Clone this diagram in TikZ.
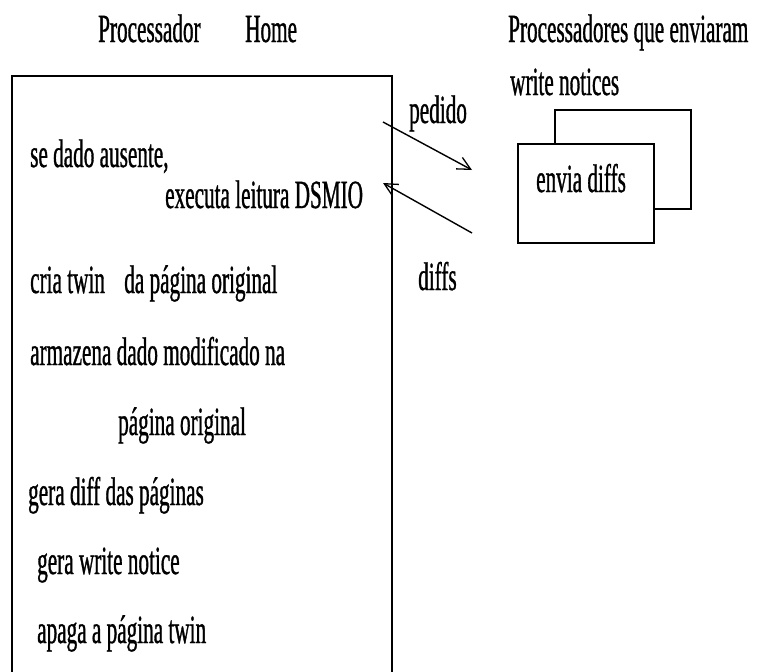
\documentclass[tikz,border=0pt]{standalone}
\usepackage{fontspec}
\setmainfont{Liberation Serif}[FakeStretch=0.53,FakeBold=0.8]
\usetikzlibrary{arrows.meta}
\begin{document}
\begin{tikzpicture}[x=1pt,y=-1pt,
  txt/.style={anchor=base west,inner sep=0pt,font=\fontsize{40}{42}\selectfont},
  frame/.style={draw=black,line width=1.6pt},
  msg/.style={line width=1.4pt,-{Straight Barb[length=13pt,width=13pt,line width=1.3pt]}}]
\useasboundingbox (0,0) rectangle (758,672);
% headings
\node[txt] (proc) at (98,42) {Processador};
\node[txt] (home) at (245,42) {Home};
\node[txt] (senders) at (508,42) {Processadores que enviaram};
\node[txt] (wn) at (510,95) {write notices};
% home processor frame, open at the bottom
\coordinate (bl) at (12,672);
\coordinate (tl) at (12,76);
\coordinate (tr) at (392,76);
\coordinate (br) at (392,672);
\draw[frame] (bl) -- (tl) -- (tr) -- (br);
% steps executed at home
\node[txt] (s1) at (30,167) {se dado ausente,};
\node[txt] (s2) at (165,208) {executa leitura DSMIO};
\node[txt] (s3) at (30,293) {cria twin\hspace{14pt} da página original};
\node[txt] (s4) at (30,365) {armazena dado modificado na};
\node[txt] (s5) at (118,435) {página original};
\node[txt] (s6) at (28,505) {gera diff das páginas};
\node[txt] (s7) at (37,574) {gera write notice};
\node[txt] (s8) at (37,643) {apaga a página twin};
% stacked sender boxes
\node[frame,fill=white,minimum width=136pt,minimum height=99pt,inner sep=0pt,anchor=north west] (back) at (554,109) {};
\node[frame,fill=white,minimum width=136pt,minimum height=99pt,inner sep=0pt,anchor=north west] (front) at (517,143) {};
\node[txt] (envia) at (536,192) {envia diffs};
% messages
\coordinate (reqA) at (383,122);
\coordinate (reqB) at (472,170);
\coordinate (repA) at (472,233);
\coordinate (repB) at (383,183);
\draw[msg] (reqA) -- (reqB);
\draw[msg] (repA) -- (repB);
\node[txt] (pedido) at (409,123) {pedido};
\node[txt] (diffs) at (418,290) {diffs};
\end{tikzpicture}
\end{document}
